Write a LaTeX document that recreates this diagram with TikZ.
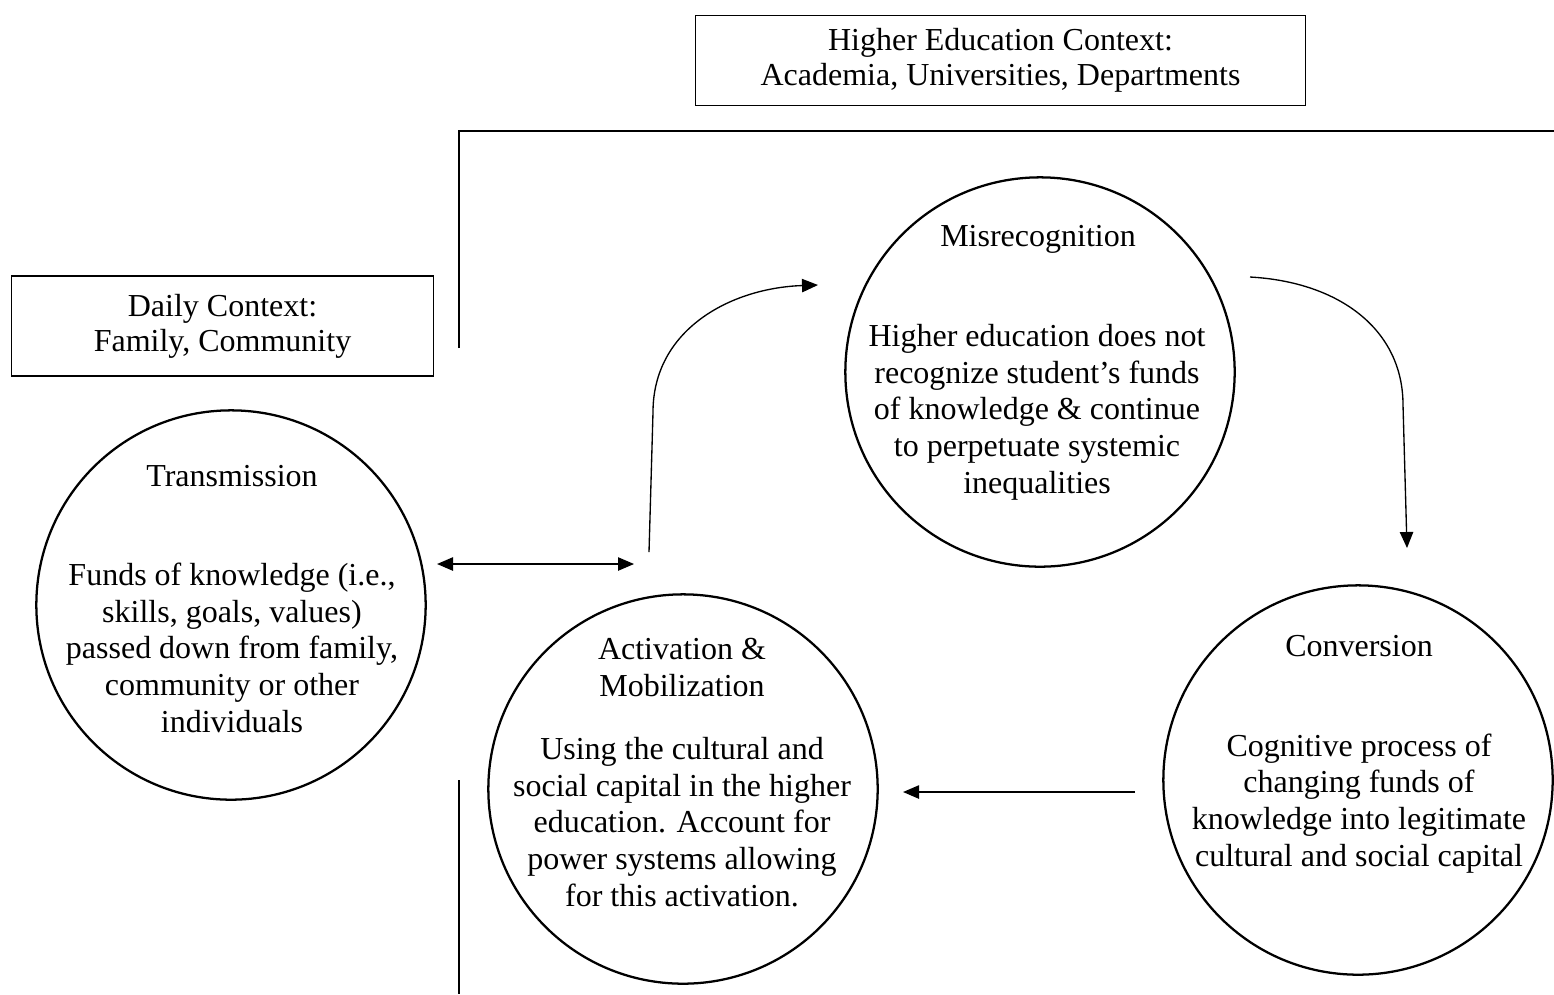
\documentclass[tikz,border=0pt]{standalone}
\usepackage{fontspec}
\setmainfont{Liberation Serif}
\usetikzlibrary{arrows.meta}

\begin{document}
\begin{tikzpicture}[x=0.375pt,y=-0.375pt,>={Triangle[length=6pt,width=5pt]},
	  stage/.style={draw,circle,line width=0.85pt,minimum size=146pt,inner sep=0pt},
	  ctxbox/.style={draw,line width=0.45pt,align=center,inner sep=0pt,font=\fontsize{12}{13.2}\selectfont},
	  txt/.style={align=center,anchor=base,font=\fontsize{12}{13.7}\selectfont},
	  flow/.style={->,line width=0.5pt}]
	  \useasboundingbox (0,0) rectangle (1554,994);
	  \node[ctxbox,minimum width=229pt,minimum height=34pt] (hectx) at (1000.5,60.5) {Higher Education Context:\\Academia, Universities, Departments};
	  \node[ctxbox,minimum width=158pt,minimum height=37.5pt] (dayctx) at (222.5,326) {Daily Context:\\Family, Community};
	  \draw[line width=0.5pt] (459,348) -- (459,131) -- (1554,131);
	  \draw[line width=0.5pt] (459,780) -- (459,994);
	  \node[stage] (trans) at (231,605) {};
	  \node[stage] (misrec) at (1040,372) {};
	  \node[stage] (activ) at (683,789) {};
	  \node[stage] (conv) at (1358,780) {};
	  % multi-line texts sit on the baseline of their last line
	  \node[txt] (transT) at (232,486) {Transmission};
	  \node[txt] (transB) at (232,732) {Funds of knowledge (i.e.,\\skills, goals, values)\\passed down from family,\\community or other\\individuals};
	  \node[txt] (misrecT) at (1038,246) {Misrecognition};
	  \node[txt] (misrecB) at (1037,493) {Higher education does not\\recognize student’s funds\\of knowledge \& continue\\to perpetuate systemic\\inequalities};
	  \node[txt] (activT) at (682,696) {Activation \&\\Mobilization};
	  \node[txt] (activB) at (682,906) {Using the cultural and\\social capital in the higher\\education. Account for\\power systems allowing\\for this activation.};
	  \node[txt] (convT) at (1359,656) {Conversion};
	  \node[txt] (convB) at (1359,866) {Cognitive process of\\changing funds of\\knowledge into legitimate\\cultural and social capital};
	  \coordinate (bothL) at (437,564);
	  \coordinate (bothR) at (634,564);
	  \coordinate (upS) at (649,552);
	  \coordinate (upE) at (818,285);
	  \coordinate (downS) at (1250,277);
	  \coordinate (downE) at (1407,548);
	  \coordinate (backS) at (1135,792);
	  \coordinate (backE) at (903,792);
	  \draw[<->,line width=0.5pt] (bothL) -- (bothR);
	  \draw[flow] (upS) -- (653,412) .. controls (653,330) and (730,288) .. (upE);
	  \draw[flow] (downS) .. controls (1340,282) and (1403,330) .. (1403,405) -- (downE);
	  \draw[flow] (backS) -- (backE);
	\end{tikzpicture}
\end{document}
